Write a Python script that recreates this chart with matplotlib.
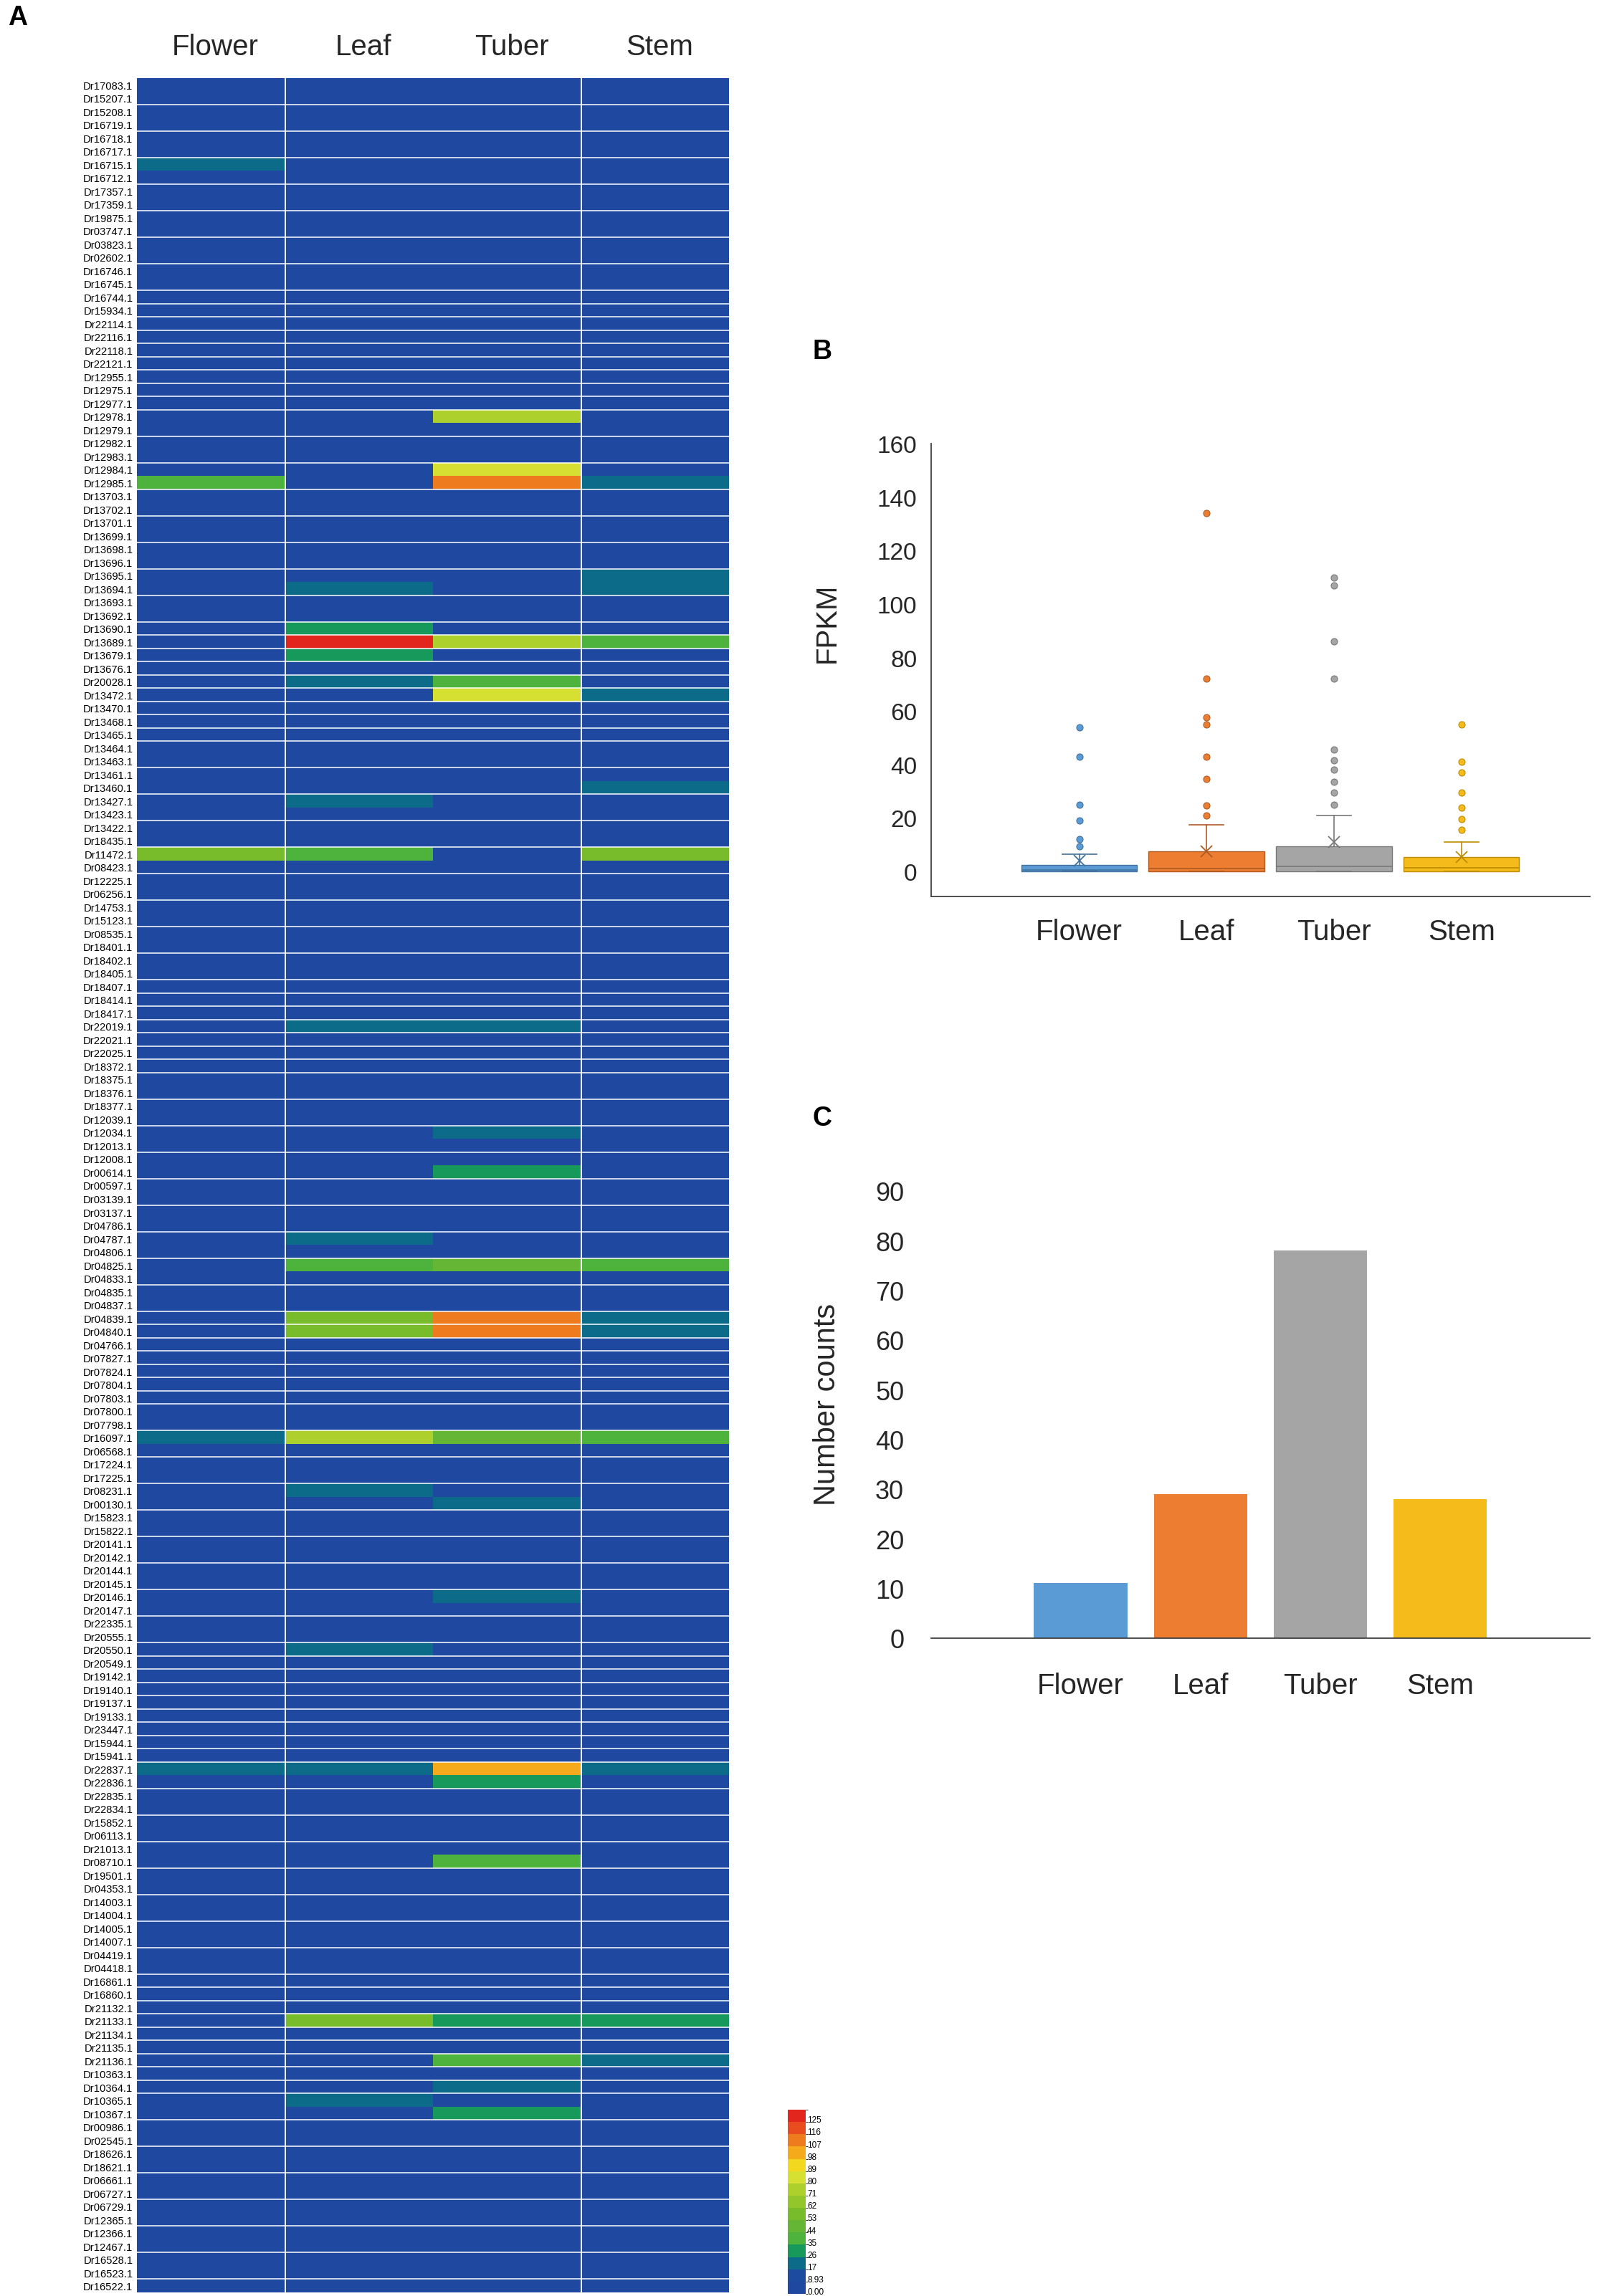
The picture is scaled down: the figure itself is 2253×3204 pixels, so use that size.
import matplotlib
matplotlib.use("Agg")
import matplotlib.pyplot as plt
from matplotlib.colors import ListedColormap, BoundaryNorm
from matplotlib import font_manager
import matplotlib.transforms as mtransforms

_names = {f.name for f in font_manager.fontManager.ttflist}
NARROW = "Liberation Sans Narrow" if "Liberation Sans Narrow" in _names else "Liberation Sans"
SANS = "Liberation Sans"
plt.rcParams["font.family"] = [SANS, "DejaVu Sans"]

# ---------------- data ----------------
tissues = ["Flower", "Leaf", "Tuber", "Stem"]

genes = [
    "Dr17083.1", "Dr15207.1", "Dr15208.1", "Dr16719.1", "Dr16718.1", "Dr16717.1", "Dr16715.1", "Dr16712.1", "Dr17357.1", "Dr17359.1", "Dr19875.1", "Dr03747.1", "Dr03823.1", "Dr02602.1", "Dr16746.1",
    "Dr16745.1", "Dr16744.1", "Dr15934.1", "Dr22114.1", "Dr22116.1", "Dr22118.1", "Dr22121.1", "Dr12955.1", "Dr12975.1", "Dr12977.1", "Dr12978.1", "Dr12979.1", "Dr12982.1", "Dr12983.1", "Dr12984.1",
    "Dr12985.1", "Dr13703.1", "Dr13702.1", "Dr13701.1", "Dr13699.1", "Dr13698.1", "Dr13696.1", "Dr13695.1", "Dr13694.1", "Dr13693.1", "Dr13692.1", "Dr13690.1", "Dr13689.1", "Dr13679.1", "Dr13676.1",
    "Dr20028.1", "Dr13472.1", "Dr13470.1", "Dr13468.1", "Dr13465.1", "Dr13464.1", "Dr13463.1", "Dr13461.1", "Dr13460.1", "Dr13427.1", "Dr13423.1", "Dr13422.1", "Dr18435.1", "Dr11472.1", "Dr08423.1",
    "Dr12225.1", "Dr06256.1", "Dr14753.1", "Dr15123.1", "Dr08535.1", "Dr18401.1", "Dr18402.1", "Dr18405.1", "Dr18407.1", "Dr18414.1", "Dr18417.1", "Dr22019.1", "Dr22021.1", "Dr22025.1", "Dr18372.1",
    "Dr18375.1", "Dr18376.1", "Dr18377.1", "Dr12039.1", "Dr12034.1", "Dr12013.1", "Dr12008.1", "Dr00614.1", "Dr00597.1", "Dr03139.1", "Dr03137.1", "Dr04786.1", "Dr04787.1", "Dr04806.1", "Dr04825.1",
    "Dr04833.1", "Dr04835.1", "Dr04837.1", "Dr04839.1", "Dr04840.1", "Dr04766.1", "Dr07827.1", "Dr07824.1", "Dr07804.1", "Dr07803.1", "Dr07800.1", "Dr07798.1", "Dr16097.1", "Dr06568.1", "Dr17224.1",
    "Dr17225.1", "Dr08231.1", "Dr00130.1", "Dr15823.1", "Dr15822.1", "Dr20141.1", "Dr20142.1", "Dr20144.1", "Dr20145.1", "Dr20146.1", "Dr20147.1", "Dr22335.1", "Dr20555.1", "Dr20550.1", "Dr20549.1",
    "Dr19142.1", "Dr19140.1", "Dr19137.1", "Dr19133.1", "Dr23447.1", "Dr15944.1", "Dr15941.1", "Dr22837.1", "Dr22836.1", "Dr22835.1", "Dr22834.1", "Dr15852.1", "Dr06113.1", "Dr21013.1", "Dr08710.1",
    "Dr19501.1", "Dr04353.1", "Dr14003.1", "Dr14004.1", "Dr14005.1", "Dr14007.1", "Dr04419.1", "Dr04418.1", "Dr16861.1", "Dr16860.1", "Dr21132.1", "Dr21133.1", "Dr21134.1", "Dr21135.1", "Dr21136.1",
    "Dr10363.1", "Dr10364.1", "Dr10365.1", "Dr10367.1", "Dr00986.1", "Dr02545.1", "Dr18626.1", "Dr18621.1", "Dr06661.1", "Dr06727.1", "Dr06729.1", "Dr12365.1", "Dr12366.1", "Dr12467.1", "Dr16528.1",
    "Dr16523.1", "Dr16522.1",
]

flower_fpkm = [
    1, 1, 1, 1, 1, 1, 25, 1, 1, 1, 1, 1, 1, 1, 1,
    1, 1, 1, 1, 1, 1, 1, 1, 1, 1, 1, 1, 1, 1, 1,
    43, 1, 1, 1, 1, 1, 1, 1, 1, 1, 1, 1, 1, 1, 1,
    1, 1, 1, 1, 1, 1, 1, 1, 1, 1, 1, 1, 1, 54, 1,
    1, 1, 1, 1, 1, 1, 1, 1, 1, 1, 1, 1, 1, 1, 1,
    1, 1, 1, 1, 1, 1, 1, 1, 1, 1, 1, 1, 1, 1, 1,
    1, 1, 1, 1, 1, 1, 1, 1, 1, 1, 1, 1, 19, 1, 1,
    1, 1, 1, 1, 1, 1, 1, 1, 1, 1, 1, 1, 1, 1, 1,
    1, 1, 1, 1, 1, 1, 1, 20, 1, 1, 1, 1, 1, 1, 1,
    1, 1, 1, 1, 1, 1, 1, 1, 1, 1, 1, 1, 1, 1, 1,
    1, 1, 1, 1, 1, 1, 1, 1, 1, 1, 1, 1, 1, 1, 1,
    1, 1,
]
leaf_fpkm = [
    1, 1, 1, 1, 1, 1, 1, 1, 1, 1, 1, 1, 1, 1, 1,
    1, 1, 1, 1, 1, 1, 1, 1, 1, 1, 1, 1, 1, 1, 1,
    1, 1, 1, 1, 1, 1, 1, 1, 20, 1, 1, 34, 134, 30, 1,
    22, 1, 1, 1, 1, 1, 1, 1, 1, 20, 1, 1, 1, 43, 1,
    1, 1, 1, 1, 1, 1, 1, 1, 1, 1, 1, 21, 1, 1, 1,
    1, 1, 1, 1, 1, 1, 1, 1, 1, 1, 1, 1, 20, 1, 40,
    1, 1, 1, 57.5, 55, 1, 1, 1, 1, 1, 1, 1, 72, 1, 1,
    1, 20, 1, 1, 1, 1, 1, 1, 1, 1, 1, 1, 1, 20, 1,
    1, 1, 1, 1, 1, 1, 1, 24.7, 1, 1, 1, 1, 1, 1, 1,
    1, 1, 1, 1, 1, 1, 1, 1, 1, 1, 1, 56, 1, 1, 1,
    1, 1, 20, 1, 1, 1, 1, 1, 1, 1, 1, 1, 1, 1, 1,
    1, 1,
]
tuber_fpkm = [
    1, 1, 1, 1, 1, 1, 1, 1, 1, 1, 1, 1, 1, 1, 1,
    1, 1, 1, 1, 1, 1, 1, 1, 1, 1, 75, 1, 1, 1, 86,
    110, 1, 1, 1, 1, 1, 1, 1, 1, 1, 1, 1, 72, 1, 1,
    38, 84, 1, 1, 1, 1, 1, 1, 1, 1, 1, 1, 1, 1, 1,
    1, 1, 1, 1, 1, 1, 1, 1, 1, 1, 1, 20, 1, 1, 1,
    1, 1, 1, 1, 20, 1, 1, 29.5, 1, 1, 1, 1, 1, 1, 45.5,
    1, 1, 1, 110, 108, 1, 1, 1, 1, 1, 1, 1, 47, 1, 1,
    1, 1, 20, 1, 1, 1, 1, 1, 1, 20, 1, 1, 1, 1, 1,
    1, 1, 1, 1, 1, 1, 1, 104, 33.5, 1, 1, 1, 1, 1, 41.5,
    1, 1, 1, 1, 1, 1, 1, 1, 1, 1, 1, 30, 1, 1, 38,
    1, 20, 1, 30, 1, 1, 1, 1, 1, 1, 1, 1, 1, 1, 1,
    1, 1,
]
stem_fpkm = [
    1, 1, 1, 1, 1, 1, 1, 1, 1, 1, 1, 1, 1, 1, 1,
    1, 1, 1, 1, 1, 1, 1, 1, 1, 1, 1, 1, 1, 1, 1,
    20, 1, 1, 1, 1, 1, 1, 19.5, 20, 1, 1, 1, 41, 1, 1,
    1, 24, 1, 1, 1, 1, 1, 1, 20, 1, 1, 1, 1, 55, 1,
    1, 1, 1, 1, 1, 1, 1, 1, 1, 1, 1, 1, 1, 1, 1,
    1, 1, 1, 1, 1, 1, 1, 1, 1, 1, 1, 1, 1, 1, 37,
    1, 1, 1, 20, 20, 1, 1, 1, 1, 1, 1, 1, 40, 1, 1,
    1, 1, 1, 1, 1, 1, 1, 1, 1, 1, 1, 1, 1, 1, 1,
    1, 1, 1, 1, 1, 1, 1, 20, 1, 1, 1, 1, 1, 1, 1,
    1, 1, 1, 1, 1, 1, 1, 1, 1, 1, 1, 29.5, 1, 1, 20,
    1, 1, 1, 1, 1, 1, 1, 1, 1, 1, 1, 1, 1, 1, 1,
    1, 1,
]

# colour scale of the heatmap legend
legend_bounds = [0, 8.93, 17, 26, 35, 44, 53, 62, 71, 80, 89, 98, 107, 116, 125, 134]
legend_labels = ["0.00", "8.93", "17", "26", "35", "44", "53", "62", "71", "80", "89", "98", "107", "116", "125"]
legend_colors = ["#1f48a0", "#1d4b9f", "#0d6b8a", "#16995a", "#4db33c", "#64b634", "#78bc2c",
                 "#92c62a", "#add02c", "#d6e033", "#f2d81f", "#f5aa1b", "#ef7b1f", "#e94d1f", "#e3261d"]

# boundaries (between row k-1 and row k) where a white separator is visible
separator_rows = [2, 4, 6, 8, 10, 12, 14,
                  16, 17, 18, 19, 20, 21, 22, 23, 24, 25, 27, 29,
                  31, 33, 35, 37, 39, 41, 42, 43, 44, 45, 46, 47, 48, 49, 50, 52, 54, 56, 58, 60,
                  62, 64, 66, 68, 69, 70, 71, 72, 73, 74, 75,
                  77, 79, 81, 83, 85, 87, 89,
                  91, 93, 94, 95, 96, 97, 98, 99, 100, 102, 104,
                  106, 108, 110, 112, 114, 116, 118, 119, 120,
                  121, 122, 123, 124, 125, 126, 127, 129, 131, 133, 135,
                  137, 139, 141, 143, 144, 145, 146, 147, 148, 149, 150, 151, 152,
                  154, 156, 158, 160, 162, 164, 166]
separator_cols = [1, 3]

# panel B: box plot statistics (FPKM)
box_q1 = [0, 0, 0, 0]
box_med = [0.5, 1, 2, 1.5]
box_q3 = [2.5, 7.5, 9.5, 5.5]
box_lo = [0, 0, 0, 0]
box_hi = [6.5, 17.5, 21, 11]
box_mean = [4, 7.5, 11, 5.5]
box_fliers = [
    [54, 43, 25, 19, 12, 9.5],
    [134, 72, 57.5, 55, 43, 34.5, 24.7, 21],
    [110, 107, 86, 72, 45.5, 41.5, 38, 33.5, 29.5, 25],
    [55, 41, 37, 29.5, 24, 19.5, 15.5],
]
series_colors = ["#5b9bd5", "#ed7d31", "#a5a5a5", "#f5bb1a"]
series_dark = ["#41719c", "#ae5a21", "#787878", "#bc8c00"]

# panel C: number counts
counts = [11, 29, 78, 28]

# ---------------- figure ----------------
W, H = 2253, 3205
fig = plt.figure(figsize=(W / 100, H / 100), dpi=100)
TXT = "#262626"

def fx(px):
    return px / W

def fy(py):
    return 1 - py / H

# ---- panel A: heatmap ----
axA = fig.add_axes([fx(191), fy(3200), fx(1017) - fx(191), fy(110) - fy(3200)])
cmap = ListedColormap(legend_colors)
norm = BoundaryNorm(legend_bounds, cmap.N)
data = [[flower_fpkm[i], leaf_fpkm[i], tuber_fpkm[i], stem_fpkm[i]] for i in range(len(genes))]
im = axA.imshow(data, cmap=cmap, norm=norm, aspect="auto", interpolation="nearest")
for k in separator_rows:
    axA.axhline(k - 0.5, color="white", lw=1.1)
for c in separator_cols:
    axA.axvline(c - 0.5, color="white", lw=1.3)
axA.set_xlim(-0.5, 3.5)
axA.set_ylim(len(genes) - 0.5, -0.5)
axA.set_yticks(range(len(genes)))
axA.set_yticklabels(genes, fontsize=10.6, family=[NARROW, "DejaVu Sans"], color="black")
axA.tick_params(axis="y", length=0, pad=4)
axA.set_xticks([])
for s in axA.spines.values():
    s.set_visible(False)
trans = mtransforms.blended_transform_factory(axA.transData, fig.transFigure)
for j, t in enumerate(tissues):
    axA.text(j + 0.03, fy(66), t, transform=trans, ha="center", va="center", fontsize=29, color=TXT)

# colour legend
axL = fig.add_axes([fx(1099), fy(3202), fx(1124) - fx(1099), fy(2945) - fy(3202)])
cb = fig.colorbar(im, cax=axL, spacing="uniform")
cb.outline.set_visible(False)
tick_pos = [legend_bounds[i] + 0.25 * (legend_bounds[i + 1] - legend_bounds[i]) for i in range(len(legend_labels))]
cb.set_ticks(tick_pos)
cb.set_ticklabels(legend_labels)
axL.tick_params(length=0, pad=1.5, labelsize=8.5, colors="black")

# ---- panel B: box plot ----
axB = fig.add_axes([0.5764, 0.6094, 0.4081, 0.1972])
stats = []
for i in range(4):
    stats.append(dict(q1=box_q1[i], med=box_med[i], q3=box_q3[i], whislo=box_lo[i],
                      whishi=box_hi[i], mean=box_mean[i], fliers=box_fliers[i], label=tissues[i]))
bp = axB.bxp(stats, positions=range(4), widths=0.91, patch_artist=True, showmeans=True,
             capwidths=0.27, manage_ticks=False)
for i in range(4):
    bp["boxes"][i].set(facecolor=series_colors[i], edgecolor=series_dark[i], linewidth=1.0)
    bp["medians"][i].set(color=series_dark[i], linewidth=1.2)
    for w in bp["whiskers"][2 * i:2 * i + 2]:
        w.set(color=series_dark[i], linewidth=1.2)
    for cpl in bp["caps"][2 * i:2 * i + 2]:
        cpl.set(color=series_dark[i], linewidth=1.2)
    bp["fliers"][i].set(marker="o", markerfacecolor=series_colors[i], markeredgecolor=series_dark[i],
                        markersize=6.5, markeredgewidth=0.8)
    bp["means"][i].set(marker="x", markeredgecolor=series_dark[i], markersize=11, markeredgewidth=1.3)
axB.set_xlim(-1.165, 4.01)
axB.set_ylim(-9.3, 160)
axB.set_yticks(range(0, 161, 20))
axB.set_xticks(range(4))
axB.set_xticklabels(tissues)
axB.tick_params(axis="y", length=0, pad=14, labelsize=24, labelcolor=TXT)
axB.tick_params(axis="x", length=0, pad=22, labelsize=29, labelcolor=TXT)
for s in ["top", "right"]:
    axB.spines[s].set_visible(False)
for s in ["left", "bottom"]:
    axB.spines[s].set(color="#404040", linewidth=1.3)

# ---- panel C: bar chart ----
axC = fig.add_axes([0.5764, 0.2865, 0.4081, 0.1947])
axC.bar(range(4), counts, width=0.78, color=series_colors)
axC.set_xlim(-1.25, 4.25)
axC.set_ylim(0, 90)
axC.set_yticks(range(0, 91, 10))
axC.set_xticks(range(4))
axC.set_xticklabels(tissues)
axC.tick_params(axis="y", length=0, pad=27, labelsize=26, labelcolor=TXT)
axC.tick_params(axis="x", length=0, pad=34, labelsize=29, labelcolor=TXT)
for s in ["top", "right", "left"]:
    axC.spines[s].set_visible(False)
axC.spines["bottom"].set(color="#404040", linewidth=1.3)

# axis titles and panel letters
fig.text(0.512, 0.7288, "FPKM", rotation=90, ha="center", va="center", fontsize=29, color=TXT)
fig.text(0.512, 0.3886, "Number counts", rotation=90, ha="center", va="center", fontsize=30, color=TXT)
fig.text(0.0109, 0.9923, "A", ha="center", va="center", fontsize=27, fontweight="bold", color="black")
fig.text(0.509, 0.8468, "B", ha="center", va="center", fontsize=27, fontweight="bold", color="black")
fig.text(0.509, 0.5131, "C", ha="center", va="center", fontsize=27, fontweight="bold", color="black")

fig.savefig("out.png", dpi=100, facecolor="white")
